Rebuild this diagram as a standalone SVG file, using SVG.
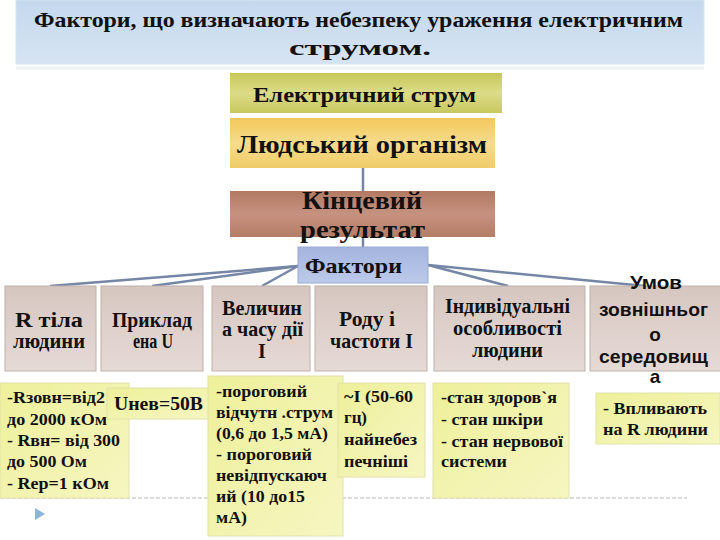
<svg xmlns="http://www.w3.org/2000/svg" width="720" height="540" viewBox="0 0 720 540">
<defs>
<linearGradient id="gTitle" x1="0" y1="0" x2="0" y2="1"><stop offset="0" stop-color="#c4d8ee"/><stop offset="1" stop-color="#d6e4f2"/></linearGradient>
<linearGradient id="gEl" x1="0" y1="0" x2="0" y2="1"><stop offset="0" stop-color="#c6c858"/><stop offset="0.5" stop-color="#dcdc88"/><stop offset="1" stop-color="#c8c860"/></linearGradient>
<linearGradient id="gLud" x1="0" y1="0" x2="0" y2="1"><stop offset="0" stop-color="#f2c85a"/><stop offset="0.5" stop-color="#f6dc8c"/><stop offset="1" stop-color="#f0cc68"/></linearGradient>
<linearGradient id="gKin" x1="0" y1="0" x2="0" y2="1"><stop offset="0" stop-color="#b27a62"/><stop offset="0.5" stop-color="#c69280"/><stop offset="1" stop-color="#b47c66"/></linearGradient>
<linearGradient id="gFak" x1="0" y1="0" x2="0" y2="1"><stop offset="0" stop-color="#a4b4de"/><stop offset="1" stop-color="#bccaea"/></linearGradient>
<linearGradient id="gF" x1="0" y1="0" x2="0" y2="1"><stop offset="0" stop-color="#d6c6c0"/><stop offset="1" stop-color="#e6dad6"/></linearGradient>
<linearGradient id="gY" x1="0" y1="0" x2="1" y2="1"><stop offset="0" stop-color="#eef09a"/><stop offset="1" stop-color="#f6f6c2"/></linearGradient>
</defs>
<style>
.t{font-family:"Liberation Serif","Times New Roman",serif;font-weight:bold;fill:#111;}
.s{font-family:"Liberation Sans",Arial,sans-serif;font-weight:bold;fill:#111;}
.b{font-size:20px;}
.yt{font-size:17px;}
.f{fill:url(#gF);stroke:#c0b0aa;stroke-width:1;}
.y{fill:url(#gY);stroke:#e2e2a8;stroke-width:1;}
.c{stroke:#7686a6;stroke-width:2.5;fill:none;}
</style>
<rect width="720" height="540" fill="#ffffff"/>
<g id="title">
<rect x="16" y="0" width="688" height="64" fill="url(#gTitle)" stroke="#d8e4f0"/>
<line x1="16" y1="68" x2="704" y2="68" stroke="#eef2f6" stroke-width="3"/>
<text class="t" x="34" y="27" font-size="22" textLength="649" lengthAdjust="spacingAndGlyphs">Фактори, що визначають небезпеку ураження електричним</text>
<text class="t" x="289" y="55" font-size="22" textLength="142" lengthAdjust="spacingAndGlyphs">струмом.</text>
</g>
<g id="connectors">
<line class="c" x1="363" y1="168" x2="363" y2="191"/>
<line class="c" x1="363" y1="237" x2="363" y2="247"/>
<line class="c" x1="298" y1="266" x2="50" y2="286"/>
<line class="c" x1="298" y1="266" x2="152" y2="286"/>
<line class="c" x1="298" y1="266" x2="262" y2="286"/>
<line class="c" x1="428" y1="265" x2="508" y2="286"/>
<line class="c" x1="428" y1="265" x2="645" y2="286"/>
</g>
<g id="el">
<rect x="230" y="73" width="272" height="40" fill="url(#gEl)"/>
<text class="t" x="253" y="102" font-size="20" textLength="223" lengthAdjust="spacingAndGlyphs">Електричний  струм</text>
</g>
<g id="lud">
<rect x="230" y="118" width="265" height="50" fill="url(#gLud)"/>
<text class="t" x="237" y="153" font-size="25" textLength="250" lengthAdjust="spacingAndGlyphs">Людський організм</text>
</g>
<g id="kin">
<rect x="230" y="191" width="265" height="46" fill="url(#gKin)"/>
<text class="t" x="302" y="209" font-size="25" textLength="120" lengthAdjust="spacingAndGlyphs">Кінцевий</text>
<text class="t" x="300" y="238" font-size="25" textLength="125" lengthAdjust="spacingAndGlyphs">результат</text>
</g>
<g id="fak">
<rect x="298" y="247" width="130" height="36" fill="url(#gFak)" stroke="#9aaad0"/>
<text class="t" x="305" y="273" font-size="22" textLength="97" lengthAdjust="spacingAndGlyphs">Фактори</text>
</g>
<g id="f1">
<rect class="f" x="5" y="286" width="91" height="85"/>
<text class="t b" x="15" y="327" textLength="68" lengthAdjust="spacingAndGlyphs">R тіла</text>
<text class="t b" x="13" y="348" textLength="72" lengthAdjust="spacingAndGlyphs">людини</text>
</g>
<g id="f2">
<rect class="f" x="101" y="286" width="102" height="85"/>
<text class="t b" x="112" y="327" textLength="80" lengthAdjust="spacingAndGlyphs">Приклад</text>
<text class="t b" x="133" y="348" textLength="40" lengthAdjust="spacingAndGlyphs">ена U</text>
</g>
<g id="f3">
<rect class="f" x="212" y="286" width="98" height="85"/>
<text class="t b" x="222" y="315" textLength="80" lengthAdjust="spacingAndGlyphs">Величин</text>
<text class="t b" x="222" y="336" textLength="81" lengthAdjust="spacingAndGlyphs">а часу дії</text>
<text class="t b" x="262" y="358" text-anchor="middle">I</text>
</g>
<g id="f4">
<rect class="f" x="315" y="286" width="112" height="85"/>
<text class="t b" x="339" y="326" textLength="56" lengthAdjust="spacingAndGlyphs">Роду і</text>
<text class="t b" x="330" y="348" textLength="83" lengthAdjust="spacingAndGlyphs">частоти I</text>
</g>
<g id="f5">
<rect class="f" x="434" y="286" width="151" height="85"/>
<text class="t b" x="445" y="313" textLength="125" lengthAdjust="spacingAndGlyphs">Індивідуальні</text>
<text class="t b" x="453" y="335" textLength="109" lengthAdjust="spacingAndGlyphs">особливості</text>
<text class="t b" x="472" y="357" textLength="71" lengthAdjust="spacingAndGlyphs">людини</text>
</g>
<g id="f6">
<rect class="f" x="590" y="286" width="135" height="85"/>
<text class="s" x="630" y="289" font-size="18" textLength="52" lengthAdjust="spacingAndGlyphs">Умов</text>
<text class="s" x="599" y="316" font-size="19" textLength="109" lengthAdjust="spacingAndGlyphs">зовнішньог</text>
<text class="s" x="655" y="341" font-size="19" text-anchor="middle">о</text>
<text class="s" x="599" y="363" font-size="19" textLength="109" lengthAdjust="spacingAndGlyphs">середовищ</text>
<text class="s" x="655" y="383" font-size="19" text-anchor="middle">а</text>
</g>
<line x1="0" y1="498" x2="687" y2="498" stroke="#b8b8b8" stroke-width="1" stroke-dasharray="4,2"/>
<g id="yA">
<rect class="y" x="0" y="383" width="129" height="115"/>
<text class="t yt" x="7" y="403" textLength="98" lengthAdjust="spacingAndGlyphs">-Rзовн=від2</text>
<text class="t yt" x="7" y="425" textLength="100" lengthAdjust="spacingAndGlyphs">до 2000 кОм</text>
<text class="t yt" x="7" y="446" textLength="113" lengthAdjust="spacingAndGlyphs">- Rвн= від 300</text>
<text class="t yt" x="7" y="467" textLength="80" lengthAdjust="spacingAndGlyphs">до 500 Ом</text>
<text class="t yt" x="7" y="489" textLength="102" lengthAdjust="spacingAndGlyphs">- Rер=1 кОм</text>
</g>
<g id="yB">
<rect class="y" x="107" y="388" width="105" height="31"/>
<text class="t" x="114" y="410" font-size="19" textLength="89" lengthAdjust="spacingAndGlyphs">Uнев=50В</text>
</g>
<g id="yC">
<rect class="y" x="208" y="376" width="135" height="160"/>
<text class="t yt" x="216" y="397" textLength="91" lengthAdjust="spacingAndGlyphs">-пороговий</text>
<text class="t yt" x="216" y="418" textLength="117" lengthAdjust="spacingAndGlyphs">відчутн .струм</text>
<text class="t yt" x="216" y="439" textLength="112" lengthAdjust="spacingAndGlyphs">(0,6 до 1,5 мА)</text>
<text class="t yt" x="216" y="460" textLength="96" lengthAdjust="spacingAndGlyphs">- пороговий</text>
<text class="t yt" x="216" y="481" textLength="111" lengthAdjust="spacingAndGlyphs">невідпускаюч</text>
<text class="t yt" x="216" y="502" textLength="89" lengthAdjust="spacingAndGlyphs">ий (10 до15</text>
<text class="t yt" x="216" y="523" textLength="31" lengthAdjust="spacingAndGlyphs">мА)</text>
</g>
<g id="yD">
<rect class="y" x="338" y="383" width="87" height="94"/>
<text class="t yt" x="344" y="402" textLength="69" lengthAdjust="spacingAndGlyphs">~I (50-60</text>
<text class="t yt" x="344" y="423" textLength="23" lengthAdjust="spacingAndGlyphs">гц)</text>
<text class="t yt" x="344" y="445" textLength="73" lengthAdjust="spacingAndGlyphs">найнебез</text>
<text class="t yt" x="344" y="467" textLength="64" lengthAdjust="spacingAndGlyphs">печніші</text>
</g>
<g id="yE">
<rect class="y" x="433" y="383" width="136" height="115"/>
<text class="t yt" x="441" y="403" textLength="116" lengthAdjust="spacingAndGlyphs">-стан здоров`я</text>
<text class="t yt" x="441" y="425" textLength="102" lengthAdjust="spacingAndGlyphs">- стан шкіри</text>
<text class="t yt" x="441" y="447" textLength="122" lengthAdjust="spacingAndGlyphs">- стан нервової</text>
<text class="t yt" x="441" y="467" textLength="66" lengthAdjust="spacingAndGlyphs">системи</text>
</g>
<g id="yF">
<rect class="y" x="596" y="393" width="124" height="51"/>
<text class="t" x="603" y="414" font-size="16" textLength="104" lengthAdjust="spacingAndGlyphs">- Впливають</text>
<text class="t" x="603" y="435" font-size="16" textLength="105" lengthAdjust="spacingAndGlyphs">на R людини</text>
</g>
<polygon points="35,508 45,514 35,520" fill="#8cb4dc"/>
</svg>
